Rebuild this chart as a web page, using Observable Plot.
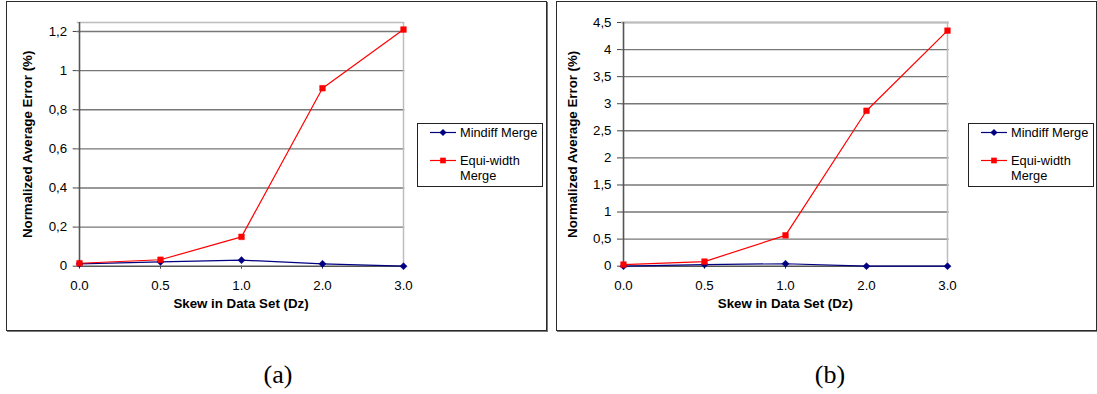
<!DOCTYPE html>
<html><head><meta charset="utf-8">
<script src="https://cdn.jsdelivr.net/npm/d3@7"></script>
<script src="https://cdn.jsdelivr.net/npm/@observablehq/plot@0.6"></script>
<style>
body{margin:0;background:#fff;font-family:Arial,"Liberation Sans",sans-serif;}
#wrap{position:relative;width:1097px;height:394px;overflow:hidden;background:#fff}
.frame{position:absolute;border:1.5px solid #2b2b2b;box-shadow:1px 1px 0 #777;box-sizing:border-box}
.chart{position:absolute;top:0}
.legend{position:absolute;border:1px solid #222;background:#fff;box-sizing:border-box;font-size:12.8px;color:#000}
.legend .t{position:absolute;left:42px;line-height:15px;white-space:nowrap}
.legend svg{position:absolute;left:0;top:0}
.cap{position:absolute;font-family:"Liberation Serif","Times New Roman",serif;font-size:26px;transform:translate(-50%,-50%)}
</style></head>
<body>
<div id="wrap">
  <div class="frame" style="left:6px;top:1px;width:541px;height:330px"></div>
  <div class="frame" style="left:556px;top:1px;width:541px;height:330px"></div>
  <div class="chart" id="ca" style="left:0px"></div>
  <div class="chart" id="cb" style="left:545px"></div>
  <div class="legend" id="la" style="left:417px;top:123px;width:126px;height:64px"></div>
  <div class="legend" id="lb" style="left:968px;top:123px;width:126px;height:64px"></div>
  <div class="cap" style="left:278px;top:375px">(a)</div>
  <div class="cap" style="left:830px;top:375px">(b)</div>
</div>
<script>
const skew = ["0.0", "0.5", "1.0", "2.0", "3.0"];
const seriesNames = ["Mindiff Merge", "Equi-width Merge"];
const seriesColors = ["#000080", "#FF0000"];
const seriesSymbols = ["diamond2", "square"];
const mindiffA = [0.012, 0.022, 0.031, 0.012, 0.0];
const equiA = [0.015, 0.033, 0.15, 0.91, 1.21];
const mindiffB = [0.0, 0.03, 0.045, 0.0, 0.0];
const equiB = [0.03, 0.085, 0.57, 2.87, 4.35];
const yTicksA = [0, 0.2, 0.4, 0.6, 0.8, 1, 1.2];
const yTicksB = [0, 0.5, 1, 1.5, 2, 2.5, 3, 3.5, 4, 4.5];
const yMaxA = 1.246;
const yMaxB = 4.5;
const xTitle = "Skew in Data Set (Dz)";
const yTitle = "Normalized Average Error (%)";

const fmt = d => String(d).replace(".", ",");

function rows(m, e) {
  const out = [];
  skew.forEach((s, i) => out.push({skew: s, value: m[i], series: seriesNames[0]}));
  skew.forEach((s, i) => out.push({skew: s, value: e[i], series: seriesNames[1]}));
  return out;
}

function chart(data, ticks, ymax, ml, mr) {
  return Plot.plot({
    width: ml + 327.6 + mr, height: 330,
    marginLeft: ml, marginRight: mr, marginTop: 22, marginBottom: 64.3,
    style: {background: "transparent", fontFamily: "Arial, 'Liberation Sans', sans-serif", fontSize: "13px", overflow: "visible", color: "#000"},
    x: {type: "point", domain: skew, padding: 0, label: null},
    y: {domain: [0, ymax], label: null},
    color: {domain: seriesNames, range: seriesColors},
    symbol: {domain: seriesNames, range: seriesSymbols},
    marks: [
      Plot.ruleY(ticks.filter(t => t > 0), {stroke: "#777", strokeWidth: 1.4}),
      Plot.ruleY([ymax], {stroke: "#bdbdbd", strokeWidth: 1.5}),
      Plot.ruleX([skew[skew.length - 1]], {stroke: "#bdbdbd", strokeWidth: 1.5}),
      Plot.axisY({ticks: ticks, tickFormat: fmt, tickSize: 4, tickPadding: 6, stroke: "#444", fill: "#000", fontSize: 13.3}),
      Plot.axisX({tickSize: 3, tickPadding: 11, stroke: "#444", fill: "#000", fontSize: 13.3}),
      Plot.ruleX([skew[0]], {stroke: "#555", strokeWidth: 1.6}),
      Plot.ruleY([0], {stroke: "#555", strokeWidth: 1.6}),
      Plot.line(data, {x: "skew", y: "value", z: "series", stroke: "series", strokeWidth: 1.2}),
      Plot.dot(data, {x: "skew", y: "value", symbol: "series", fill: "series", stroke: "series", r: 3.2, strokeWidth: 0.5}),
      Plot.text([xTitle], {frameAnchor: "bottom", dy: 41.5, fontWeight: "bold", fontSize: 13.3, fill: "#000", textAnchor: "middle"}),
      Plot.text([yTitle], {frameAnchor: "left", dx: -49, rotate: -90, fontWeight: "bold", fontSize: 13.3, fill: "#000", textAnchor: "middle"})
    ]
  });
}

document.getElementById("ca").appendChild(chart(rows(mindiffA, equiA), yTicksA, yMaxA, 76.7, 142.7));
document.getElementById("cb").appendChild(chart(rows(mindiffB, equiB), yTicksB, yMaxB, 76, 141));

function legend(el) {
  const ns = "http://www.w3.org/2000/svg";
  const svg = document.createElementNS(ns, "svg");
  svg.setAttribute("width", 60); svg.setAttribute("height", 60);
  const ys = [8.5, 36.5];
  seriesNames.forEach((n, i) => {
    const l = document.createElementNS(ns, "line");
    l.setAttribute("x1", 12); l.setAttribute("x2", 38);
    l.setAttribute("y1", ys[i]); l.setAttribute("y2", ys[i]);
    l.setAttribute("stroke", seriesColors[i]); l.setAttribute("stroke-width", 1.2);
    svg.appendChild(l);
    const p = document.createElementNS(ns, "path");
    p.setAttribute("transform", `translate(25,${ys[i]})`);
    const sym = i === 0 ? d3.symbolDiamond2 : d3.symbolSquare;
    p.setAttribute("d", d3.symbol(sym, Math.PI * 3.2 * 3.2)());
    p.setAttribute("fill", seriesColors[i]);
    svg.appendChild(p);
  });
  el.appendChild(svg);
  const texts = [["Mindiff Merge", 1], ["Equi-width", 29], ["Merge", 44]];
  texts.forEach(([t, y]) => {
    const d = document.createElement("div");
    d.className = "t"; d.style.top = y + "px"; d.textContent = t;
    el.appendChild(d);
  });
}
legend(document.getElementById("la"));
legend(document.getElementById("lb"));
</script>
</body></html>
